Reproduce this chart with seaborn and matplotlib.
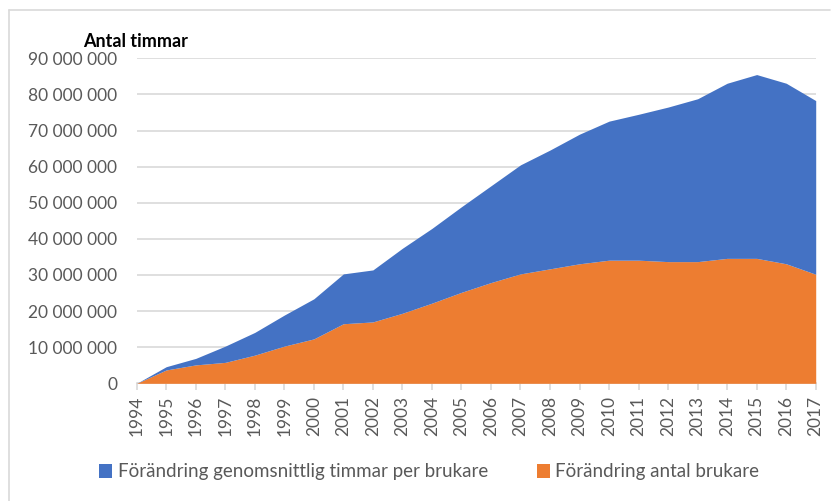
import numpy as np
import matplotlib
matplotlib.use("Agg")
import matplotlib.pyplot as plt
from matplotlib.patches import Patch
from matplotlib.ticker import FuncFormatter, MultipleLocator
import seaborn as sns

# data (stacked area, values in hours)
years = list(range(1994, 2018))
antal_brukare = [0, 3.7, 5.1, 5.8, 7.8, 10.3, 12.3, 16.5, 17.0, 19.4, 22.2, 25.2,
                 27.9, 30.3, 31.7, 33.1, 34.1, 34.1, 33.7, 33.7, 34.6, 34.6, 33.1, 30.2]
timmar_per_brukare = [0, 0.9, 1.8, 4.5, 6.3, 8.6, 11.1, 13.8, 14.4, 18.0, 20.7, 23.7,
                      26.8, 30.2, 32.9, 35.9, 38.5, 40.4, 42.8, 45.1, 48.5, 50.9, 50.0, 48.1]
labels = ["Förändring genomsnittlig timmar per brukare", "Förändring antal brukare"]
colors = ["#4472C4", "#ED7D31"]

orange = np.array(antal_brukare) * 1e6
blue = np.array(timmar_per_brukare) * 1e6

sns.set_theme(style="white")
plt.rcParams["font.family"] = ["Lato", "DejaVu Sans"]

grey = "#595959"
grid = "#D9D9D9"

fig = plt.figure(figsize=(8.31, 5.01), dpi=100)
ax = fig.add_axes([0.1645, 0.2349, 0.8171, 0.6487])

# orange at the bottom, blue stacked on top
ax.stackplot(years, orange, blue, colors=[colors[1], colors[0]], linewidth=0)

ax.set_xlim(1994, 2017)
ax.set_ylim(0, 90e6)
ax.yaxis.set_major_locator(MultipleLocator(10e6))
ax.yaxis.set_major_formatter(FuncFormatter(lambda v, p: f"{v:,.0f}".replace(",", " ")))
ax.set_xticks(years)
ax.set_xticklabels([str(y) for y in years], rotation=90)

ax.grid(axis="y", color=grid, linewidth=1.2)
ax.set_axisbelow(True)
for side in ["top", "right", "left"]:
    ax.spines[side].set_visible(False)
ax.spines["bottom"].set_color(grid)
ax.spines["bottom"].set_linewidth(1.2)
ax.spines["bottom"].set_zorder(0.5)

ax.tick_params(axis="y", length=0, pad=14, labelsize=12.5, labelcolor=grey)
ax.tick_params(axis="x", length=5, width=1.2, color=grid, pad=4, labelsize=12.5,
               labelcolor=grey, bottom=True)

fig.text(83 / 831, 1 - 41.5 / 501, "Antal timmar", ha="left", va="center",
         fontsize=13, fontweight="bold", color="black")

handles = [Patch(facecolor=c, edgecolor="none") for c in colors]
fig.legend(handles, labels, loc="center", bbox_to_anchor=(429 / 831, 1 - 472 / 501),
           ncol=2, frameon=False, fontsize=13.5, labelcolor=grey,
           handlelength=0.7, handleheight=0.7, handletextpad=0.3, columnspacing=2.6)

# chart frame (top and left edges visible)
fig.add_artist(plt.Line2D([9 / 831, 830 / 831], [1 - 10 / 501, 1 - 10 / 501],
                          color=grid, linewidth=1.2, transform=fig.transFigure))
fig.add_artist(plt.Line2D([9 / 831, 9 / 831], [1 - 10 / 501, 0],
                          color=grid, linewidth=1.2, transform=fig.transFigure))

fig.savefig("out.png", dpi=100, facecolor="white")
